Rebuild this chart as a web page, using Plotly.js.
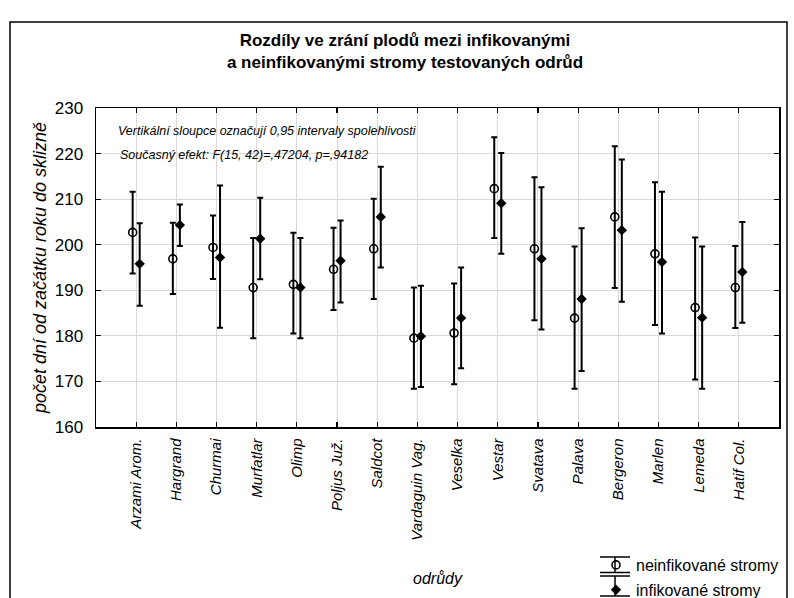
<!DOCTYPE html>
<html>
<head>
<meta charset="utf-8">
<script src="https://cdn.plot.ly/plotly-3.0.1.min.js"></script>
<style>html,body{margin:0;padding:0;background:#fff;}#chart{width:794px;height:598px;}</style>
</head>
<body>
<div id="chart"></div>
<script>
const categories = ["Arzami Arom.","Hargrand","Churmai","Murfatlar","Olimp","Poljus Juž.","Saldcot","Vardaguin Vag.","Veselka","Vestar","Svatava","Palava","Bergeron","Marlen","Lemeda","Hatif Col."];
const neinfMean = [202.7,196.9,199.4,190.6,191.3,194.6,199.1,179.5,180.6,212.3,199.1,183.9,206.1,198.0,186.2,190.6];
const neinfLow  = [193.7,189.2,192.5,179.5,180.5,185.7,188.1,168.4,169.4,201.5,183.4,168.4,190.5,182.4,170.4,181.7];
const neinfHigh = [211.6,204.8,206.4,201.5,202.6,203.7,210.1,190.6,191.5,223.6,214.8,199.6,221.6,213.7,201.6,199.7];
const infMean = [195.8,204.3,197.2,201.3,190.6,196.5,206.1,179.9,183.9,209.1,196.9,188.1,203.2,196.2,184.0,194.0];
const infLow  = [186.6,199.7,181.8,192.4,179.5,187.3,195.0,168.8,172.9,198.0,181.4,172.3,187.5,180.5,168.4,182.9];
const infHigh = [204.7,208.8,213.0,210.3,201.5,205.3,217.1,191.0,195.0,220.1,212.6,203.6,218.7,211.6,199.6,205.0];
const yTicks = [160,170,180,190,200,210,220,230];

const M = {l:96, r:15, t:108, b:171, autoexpand:false};
const W = 794, H = 598;
const pw = W - M.l - M.r, ph = H - M.t - M.b;
const px = v => (v - M.l) / pw;
const py = v => (H - M.b - v) / ph;

const FONT = "Liberation Sans, Arial, sans-serif";

function errObj(mean, low, high){
  return {type:'data', symmetric:false,
    array: high.map((h,i)=>h-mean[i]),
    arrayminus: mean.map((m,i)=>m-low[i]),
    color:'#000', thickness:2, width:3};
}

const traces = [
  {type:'scatter', mode:'markers', name:'neinfikované stromy', x:categories, y:neinfMean,
   marker:{symbol:'circle-open', size:8, color:'#000', line:{width:1.6, color:'#000'}},
   error_y: errObj(neinfMean, neinfLow, neinfHigh), legendgroup:'a'},
  {type:'scatter', mode:'markers', name:'infikované stromy', x:categories, y:infMean,
   marker:{symbol:'diamond', size:8, color:'#000'},
   error_y: errObj(infMean, infLow, infHigh), legendgroup:'b'}
];

const LX0 = 600, LX1 = 630, LXC = 615;
const lineAt = (x0,y0,x1,y1) => ({type:'line', xref:'paper', yref:'paper', x0:px(x0), x1:px(x1), y0:py(y0), y1:py(y1), line:{color:'#000', width:1.5}});
const shapes = [
  {type:'rect', xref:'paper', yref:'paper', x0:px(10), x1:px(787), y0:py(630), y1:py(22), line:{color:'#000', width:1.5}, layer:'below'},
  lineAt(LX0,557,LX1,557),
  lineAt(LX0,572.5,LX1,572.5),
  lineAt(LX0,576,LX1,576),
  lineAt(LX0,596,LX1,596),
  lineAt(LXC,557,LXC,572.5),
  lineAt(LXC,576,LXC,596)
];

const layout = {
  width:W, height:H, margin:M,
  paper_bgcolor:'#fff', plot_bgcolor:'#fff',
  font:{family:FONT, color:'#000'},
  title:{text:'Rozdíly ve zrání plodů mezi infikovanými<br>a neinfikovanými stromy testovaných odrůd',
         font:{family:FONT, size:17, weight:'bold', color:'#000'}, x:405/W, xanchor:'center', y:1-46/H, yanchor:'middle'},
  scattermode:'group', scattergap:0.65,
  xaxis:{type:'category', range:[-1,16], showgrid:true, gridcolor:'#d9d9d9', gridwidth:1,
         ticks:'inside', ticklen:5, tickwidth:1.2, tickcolor:'#000', mirror:'ticks',
         showline:true, linecolor:'#000', linewidth:1.5, tickangle:-90, ticklabelstandoff:4,
         tickfont:{family:FONT, size:15, style:'italic', color:'#000'},
         title:{text:'odrůdy', font:{family:FONT, size:16, style:'italic', color:'#000'}, standoff:33},
         automargin:false, zeroline:false},
  yaxis:{range:[160,230], tickvals:yTicks, showgrid:true, gridcolor:'#d9d9d9', gridwidth:1,
         ticks:'inside', ticklen:5, tickwidth:1.2, tickcolor:'#000', mirror:'ticks',
         showline:true, linecolor:'#000', linewidth:1.5, ticklabelstandoff:8,
         tickfont:{family:FONT, size:17, color:'#000'},
         title:{text:'počet dní od začátku roku do sklizně', font:{family:FONT, size:18, style:'italic', color:'#000'}, standoff:3},
         automargin:false, zeroline:false},
  showlegend:true,
  legend:{x:px(596), xanchor:'left', y:py(548), yanchor:'top', bgcolor:'rgba(0,0,0,0)',
          font:{family:FONT, size:16, color:'#000'}, tracegroupgap:1, traceorder:'grouped'},
  annotations:[
    {xref:'paper', yref:'paper', x:px(116), y:py(131), xanchor:'left', yanchor:'middle', showarrow:false,
     text:'Vertikální sloupce označují 0,95 intervaly spolehlivosti', font:{family:FONT, size:12.5, style:'italic', color:'#000'}},
    {xref:'paper', yref:'paper', x:px(118), y:py(155), xanchor:'left', yanchor:'middle', showarrow:false,
     text:'Současný efekt: F(15, 42)=,47204, p=,94182', font:{family:FONT, size:12.5, style:'italic', color:'#000'}}
  ],
  shapes:shapes
};

Plotly.newPlot('chart', traces, layout, {displayModeBar:false, staticPlot:true});
</script>
</body>
</html>
